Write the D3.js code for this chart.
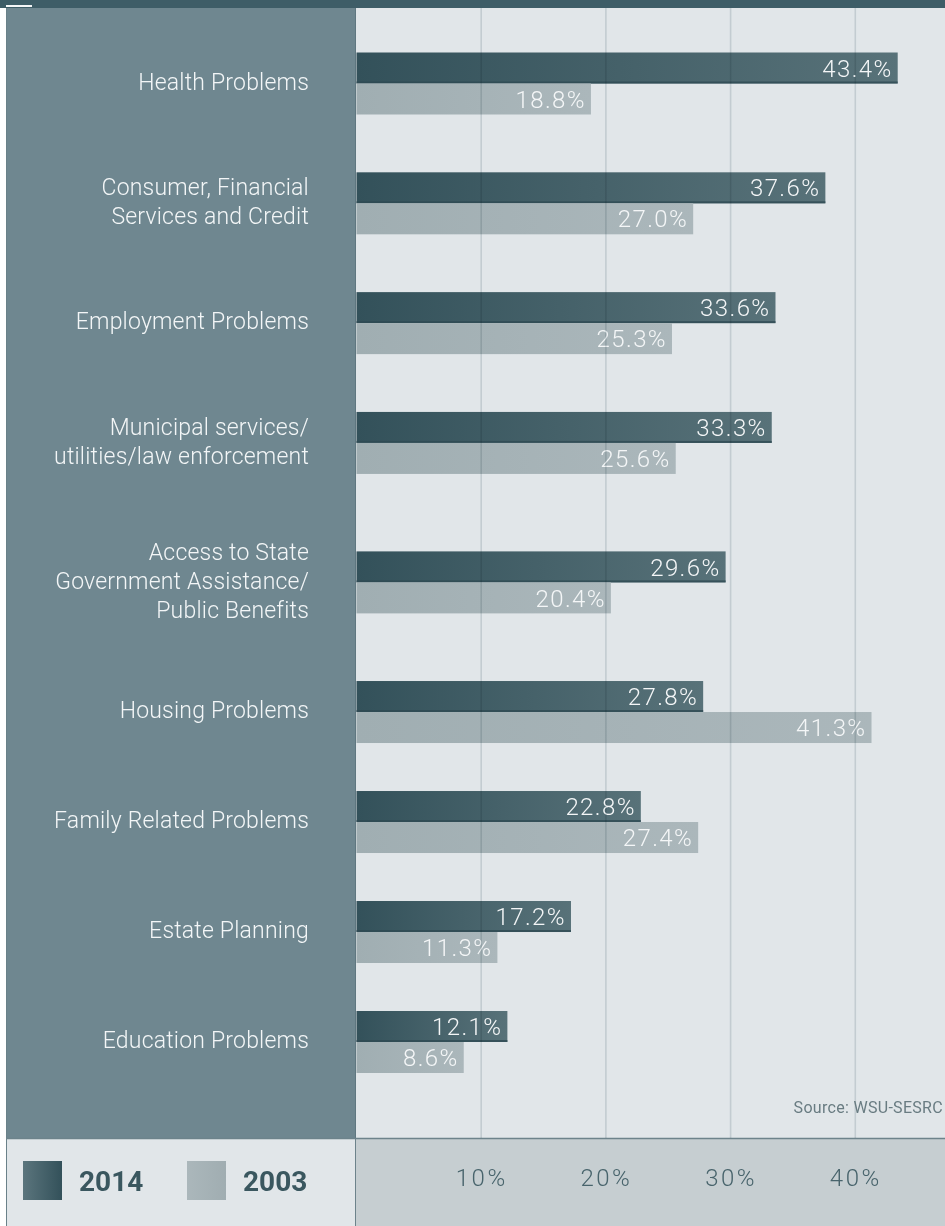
<!DOCTYPE html>
<html>
<head>
<meta charset="utf-8">
<script src="https://cdn.jsdelivr.net/npm/d3@7"></script>
<style>
  html, body { margin: 0; padding: 0; background: #ffffff; }
  svg { display: block; }
  .grid line { mix-blend-mode: multiply; }
</style>
</head>
<body>
<div id="chart"></div>
<script>
const WIDTH = 945;
const HEIGHT = 1226;

// --------------- Data ---------------
const categories = [
  "Health Problems",
  "Consumer, Financial\nServices and Credit",
  "Employment Problems",
  "Municipal services/\nutilities/law enforcement",
  "Access to State\nGovernment Assistance/\nPublic Benefits",
  "Housing Problems",
  "Family Related Problems",
  "Estate Planning",
  "Education Problems"
];
const values2014 = [43.4, 37.6, 33.6, 33.3, 29.6, 27.8, 22.8, 17.2, 12.1];
const values2003 = [18.8, 27.0, 25.3, 25.6, 20.4, 41.3, 27.4, 11.3, 8.6];
const seriesNames = ["2014", "2003"];
const tickValues = [10, 20, 30, 40];
const sourceText = "Source: WSU-SESRC";

// --------------- Layout ---------------
const LEFT_EDGE = 6;
const PANEL_RIGHT = 356;
const TOP = 8;
const PLOT_BOTTOM = 1138;
const BAR_H = 31;
const LABEL_X = 309;
const LINE_H = 29;
const FONT = "Roboto, 'Liberation Sans', Arial, sans-serif";

const svg = d3.select("#chart")
  .append("svg")
  .attr("width", WIDTH)
  .attr("height", HEIGHT);

const defs = svg.append("defs");

function addGradient(id, from, to) {
  const gr = defs.append("linearGradient")
    .attr("id", id)
    .attr("x1", 0).attr("x2", 1).attr("y1", 0).attr("y2", 0);
  gr.append("stop").attr("offset", "0%").attr("stop-color", from);
  gr.append("stop").attr("offset", "100%").attr("stop-color", to);
}
addGradient("bar2014", "#33515a", "#587279");
addGradient("bar2003", "#a0aeb2", "#abb7bb");
addGradient("key2014", "#5b757d", "#33515a");
addGradient("key2003", "#abb7bb", "#a0adb1");

// x scale: percent -> pixels
const x = d3.scaleLinear()
  .domain([0, 40])
  .range([356.5, 855.3]);

// y: each group gets room according to how many lines its label has
const lineCounts = categories.map(c => c.split("\n").length);
const weights = lineCounts.map(n => 4.6 + n);
let acc = 0;
const centersU = weights.map(w => { const c = acc + w / 2; acc += w; return c; });
const y = d3.scaleLinear()
  .domain([centersU[0], centersU[centersU.length - 1]])
  .range([83.5, 1042]);

// --------------- Backgrounds ---------------
svg.append("rect")
  .attr("x", 0).attr("y", 0).attr("width", WIDTH).attr("height", HEIGHT)
  .attr("fill", "#ffffff");

// plot area
svg.append("rect")
  .attr("x", PANEL_RIGHT).attr("y", TOP)
  .attr("width", WIDTH - PANEL_RIGHT).attr("height", PLOT_BOTTOM - TOP)
  .attr("fill", "#e1e6e9");

// left label panel
svg.append("rect")
  .attr("x", LEFT_EDGE).attr("y", TOP)
  .attr("width", PANEL_RIGHT - LEFT_EDGE).attr("height", PLOT_BOTTOM - TOP)
  .attr("fill", "#6f8790");
svg.append("line")
  .attr("x1", PANEL_RIGHT - 0.5).attr("x2", PANEL_RIGHT - 0.5)
  .attr("y1", TOP).attr("y2", PLOT_BOTTOM)
  .attr("stroke", "#5f7780").attr("stroke-width", 1);
svg.append("line")
  .attr("x1", LEFT_EDGE + 0.5).attr("x2", LEFT_EDGE + 0.5)
  .attr("y1", TOP).attr("y2", HEIGHT)
  .attr("stroke", "#6a8189").attr("stroke-width", 1);

// top band
svg.append("rect")
  .attr("x", 0).attr("y", 0).attr("width", WIDTH).attr("height", TOP)
  .attr("fill", "#3e5d67");
svg.append("rect")
  .attr("x", LEFT_EDGE).attr("y", 5).attr("width", 26).attr("height", 2)
  .attr("fill", "#f4f6f7");

// bottom strip: legend + axis
svg.append("rect")
  .attr("x", LEFT_EDGE + 1).attr("y", PLOT_BOTTOM)
  .attr("width", PANEL_RIGHT - LEFT_EDGE - 1).attr("height", HEIGHT - PLOT_BOTTOM)
  .attr("fill", "#e1e6e9");
svg.append("rect")
  .attr("x", PANEL_RIGHT).attr("y", PLOT_BOTTOM)
  .attr("width", WIDTH - PANEL_RIGHT).attr("height", HEIGHT - PLOT_BOTTOM)
  .attr("fill", "#c6ced1");
svg.append("line")
  .attr("x1", LEFT_EDGE).attr("x2", WIDTH)
  .attr("y1", PLOT_BOTTOM + 0.5).attr("y2", PLOT_BOTTOM + 0.5)
  .attr("stroke", "#6d838b").attr("stroke-width", 1.5);
svg.append("line")
  .attr("x1", PANEL_RIGHT - 0.5).attr("x2", PANEL_RIGHT - 0.5)
  .attr("y1", PLOT_BOTTOM).attr("y2", HEIGHT)
  .attr("stroke", "#6d838b").attr("stroke-width", 1);

// --------------- Bars ---------------
const rows = categories.map((c, i) => ({
  name: c, i: i, v2014: values2014[i], v2003: values2003[i]
}));

const bars = svg.append("g").attr("class", "bars");

const groups = bars.selectAll("g.row")
  .data(rows)
  .enter()
  .append("g")
  .attr("class", "row");

groups.append("rect")
  .attr("x", x(0))
  .attr("y", d => y(centersU[d.i]) - BAR_H)
  .attr("width", d => x(d.v2014) - x(0))
  .attr("height", BAR_H)
  .attr("fill", "url(#bar2014)");

groups.append("rect")
  .attr("x", x(0))
  .attr("y", d => y(centersU[d.i]) - 2)
  .attr("width", d => x(d.v2014) - x(0))
  .attr("height", 2)
  .attr("fill", "#2e4a52")
  .attr("opacity", 0.8);

groups.append("rect")
  .attr("x", x(0))
  .attr("y", d => y(centersU[d.i]))
  .attr("width", d => x(d.v2003) - x(0))
  .attr("height", BAR_H)
  .attr("fill", "url(#bar2003)");

// gridlines on top of the bars
svg.append("g")
  .attr("class", "grid")
  .selectAll("line")
  .data(tickValues)
  .enter()
  .append("line")
  .attr("x1", d => x(d)).attr("x2", d => x(d))
  .attr("y1", TOP).attr("y2", PLOT_BOTTOM)
  .attr("stroke", "#dde3e5")
  .attr("stroke-width", 1.6);

// value labels
groups.append("text")
  .attr("x", d => x(d.v2014) - 5)
  .attr("y", d => y(centersU[d.i]) - BAR_H / 2)
  .attr("dy", "0.36em")
  .attr("text-anchor", "end")
  .attr("font-family", FONT)
  .attr("font-weight", 300)
  .attr("font-size", 24)
  .attr("letter-spacing", 1.4)
  .attr("fill", "#f4f6f7")
  .text(d => d.v2014.toFixed(1) + "%");

groups.append("text")
  .attr("x", d => x(d.v2003) - 5)
  .attr("y", d => y(centersU[d.i]) + BAR_H / 2)
  .attr("dy", "0.36em")
  .attr("text-anchor", "end")
  .attr("font-family", FONT)
  .attr("font-weight", 300)
  .attr("font-size", 24)
  .attr("letter-spacing", 1.4)
  .attr("fill", "#f4f6f7")
  .text(d => d.v2003.toFixed(1) + "%");

// category labels
const labels = svg.append("g").attr("class", "labels")
  .selectAll("text")
  .data(rows)
  .enter()
  .append("text")
  .attr("text-anchor", "end")
  .attr("font-family", FONT)
  .attr("font-weight", 300)
  .attr("font-size", 23)
  .attr("letter-spacing", 0.2)
  .attr("fill", "#f3f6f7");

labels.each(function(d) {
  const lines = d.name.split("\n");
  const cy = y(centersU[d.i]) - 2;
  const t = d3.select(this);
  lines.forEach((ln, k) => {
    t.append("tspan")
      .attr("x", LABEL_X)
      .attr("y", cy + (k - (lines.length - 1) / 2) * LINE_H)
      .attr("dy", "0.36em")
      .text(ln);
  });
});

// source
svg.append("text")
  .attr("x", WIDTH - 2)
  .attr("y", PLOT_BOTTOM - 31)
  .attr("dy", "0.36em")
  .attr("text-anchor", "end")
  .attr("font-family", FONT)
  .attr("font-size", 16)
  .attr("letter-spacing", 0.3)
  .attr("fill", "#697c82")
  .text(sourceText);

// --------------- Axis ---------------
const axis = svg.append("g")
  .attr("transform", `translate(0,${PLOT_BOTTOM})`)
  .call(d3.axisBottom(x).tickValues(tickValues).tickSize(0).tickFormat(d => d + "%"));
axis.select(".domain").remove();
axis.selectAll("text")
  .attr("y", 39)
  .attr("dy", "0.36em")
  .attr("font-family", FONT)
  .attr("font-weight", 300)
  .attr("font-size", 24)
  .attr("letter-spacing", 2.5)
  .attr("fill", "#48646c");

// --------------- Legend ---------------
const legend = svg.append("g").attr("class", "legend");
const legendX = [23, 187];
seriesNames.forEach((s, i) => {
  legend.append("rect")
    .attr("x", legendX[i]).attr("y", 1161)
    .attr("width", 39).attr("height", 39)
    .attr("fill", i === 0 ? "url(#key2014)" : "url(#key2003)");
  legend.append("text")
    .attr("x", legendX[i] + 56)
    .attr("y", 1180.5)
    .attr("dy", "0.36em")
    .attr("font-family", FONT)
    .attr("font-weight", 700)
    .attr("font-size", 28)
    .attr("fill", "#3a575f")
    .text(s);
});
</script>
</body>
</html>
